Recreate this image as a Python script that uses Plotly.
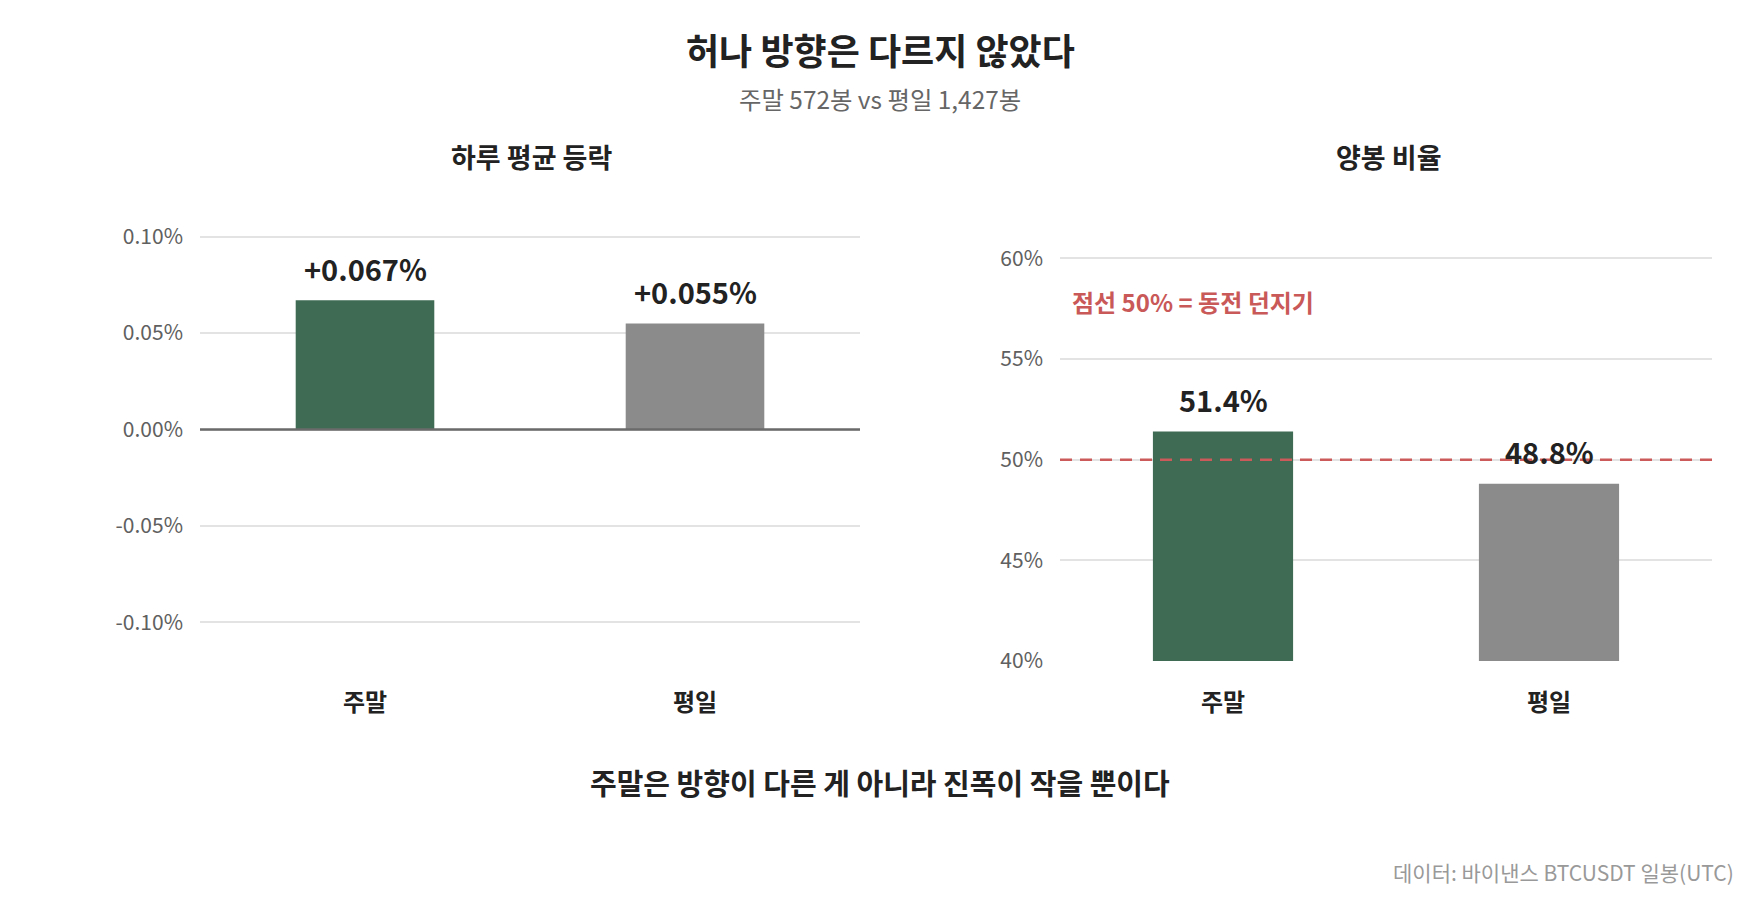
import plotly.graph_objects as go

categories = ["주말", "평일"]
avg_change = [0.067, 0.055]          # 하루 평균 등락 (%)
avg_labels = ["+0.067%", "+0.055%"]
up_ratio = [51.4, 48.8]              # 양봉 비율 (%)
up_labels = ["51.4%", "48.8%"]
bar_colors = ["#3f6b54", "#8b8b8b"]

left_ticks = [-0.10, -0.05, 0.0, 0.05, 0.10]
left_ticktext = ["-0.10%", "-0.05%", "0.00%", "0.05%", "0.10%"]
right_ticks = [40, 45, 50, 55, 60]
right_ticktext = ["40%", "45%", "50%", "55%", "60%"]
coin_flip = 50

FONT = "Noto Sans CJK KR"
W, H = 1760, 900

fig = go.Figure()
fig.add_trace(go.Bar(x=categories, y=avg_change, marker=dict(color=bar_colors, line=dict(width=0)),
                     width=0.42, xaxis="x", yaxis="y", hoverinfo="skip"))
fig.add_trace(go.Bar(x=categories, y=up_ratio, marker=dict(color=bar_colors, line=dict(width=0)),
                     width=0.43, xaxis="x2", yaxis="y2", hoverinfo="skip"))

ydom = [1 - 661 / H, 1 - 198 / H]
common_y = dict(showline=False, zeroline=False, gridcolor="#e3e3e3", gridwidth=2,
                tickfont=dict(family=FONT, size=21, color="#606060"), ticks="", ticklen=0,
                automargin=False, fixedrange=True, ticklabelstandoff=16)
common_x = dict(showline=False, showgrid=False, zeroline=False, ticks="",
                tickfont=dict(family=FONT, size=24, color="#222222"), automargin=False,
                fixedrange=True, ticklabelstandoff=25)

fig.update_layout(
    width=W, height=H, template="none",
    paper_bgcolor="white", plot_bgcolor="white",
    margin=dict(l=0, r=0, t=0, b=0),
    showlegend=False,
    font=dict(family=FONT),
    xaxis=dict(domain=[200 / W, 860 / W], anchor="y", tickvals=categories,
               ticktext=[f"<b>{c}</b>" for c in categories], **common_x),
    yaxis=dict(domain=ydom, anchor="x", range=[-0.12, 0.12], tickvals=left_ticks,
               ticktext=left_ticktext, **common_y),
    xaxis2=dict(domain=[1060 / W, 1712 / W], anchor="y2", tickvals=categories,
                ticktext=[f"<b>{c}</b>" for c in categories], **common_x),
    yaxis2=dict(domain=ydom, anchor="x2", range=[40, 63], tickvals=right_ticks,
                ticktext=right_ticktext, **common_y),
)

# zero line on left panel
fig.add_shape(type="line", xref="x domain", yref="y", x0=0, x1=1, y0=0, y1=0,
              line=dict(color="#6a6a6a", width=2.5), layer="above")
# coin flip dashed line on right panel
fig.add_shape(type="line", xref="x2 domain", yref="y2", x0=0, x1=1, y0=coin_flip, y1=coin_flip,
              line=dict(color="#cc5a5a", width=2.5, dash="12px,8px"), layer="above")

# value labels
for c, v, t in zip(categories, avg_change, avg_labels):
    fig.add_annotation(x=c, y=v, xref="x", yref="y", text=f"<b>{t}</b>", showarrow=False,
                       yanchor="middle", yshift=32, font=dict(family=FONT, size=29, color="#222222"))
for c, v, t in zip(categories, up_ratio, up_labels):
    fig.add_annotation(x=c, y=v, xref="x2", yref="y2", text=f"<b>{t}</b>", showarrow=False,
                       yanchor="middle", yshift=33, font=dict(family=FONT, size=29, color="#222222"))

fig.add_annotation(x=1070 / W, y=1 - 301 / H, xref="paper", yref="paper", xanchor="left",
                   yanchor="middle", showarrow=False, text="<b>점선 50% = 동전 던지기</b>",
                   font=dict(family=FONT, size=24, color="#c95858"))

# titles
fig.add_annotation(x=0.5, y=1 - 49 / H, xref="paper", yref="paper", showarrow=False,
                   xanchor="center", yanchor="middle", text="<b>허나 방향은 다르지 않았다</b>",
                   font=dict(family=FONT, size=36, color="#222222"))
fig.add_annotation(x=0.5, y=1 - 99 / H, xref="paper", yref="paper", showarrow=False,
                   xanchor="center", yanchor="middle", text="주말 572봉 vs 평일 1,427봉",
                   font=dict(family=FONT, size=24.4, color="#666666"))
fig.add_annotation(x=531 / W, y=1 - 157 / H, xref="paper", yref="paper", showarrow=False,
                   xanchor="center", yanchor="middle", text="<b>하루 평균 등락</b>",
                   font=dict(family=FONT, size=27, color="#222222"))
fig.add_annotation(x=1389 / W, y=1 - 157 / H, xref="paper", yref="paper", showarrow=False,
                   xanchor="center", yanchor="middle", text="<b>양봉 비율</b>",
                   font=dict(family=FONT, size=27, color="#222222"))
fig.add_annotation(x=0.5, y=1 - 782 / H, xref="paper", yref="paper", showarrow=False,
                   xanchor="center", yanchor="middle",
                   text="<b>주말은 방향이 다른 게 아니라 진폭이 작을 뿐이다</b>",
                   font=dict(family=FONT, size=29, color="#222222"))
fig.add_annotation(x=1736 / W, y=1 - 872 / H, xref="paper", yref="paper", showarrow=False,
                   xanchor="right", yanchor="middle", text="데이터: 바이낸스 BTCUSDT 일봉(UTC)",
                   font=dict(family=FONT, size=21, color="#999999"))

fig.write_html("out.html", config={"displayModeBar": False},
               post_script="document.body.style.margin='0';")
